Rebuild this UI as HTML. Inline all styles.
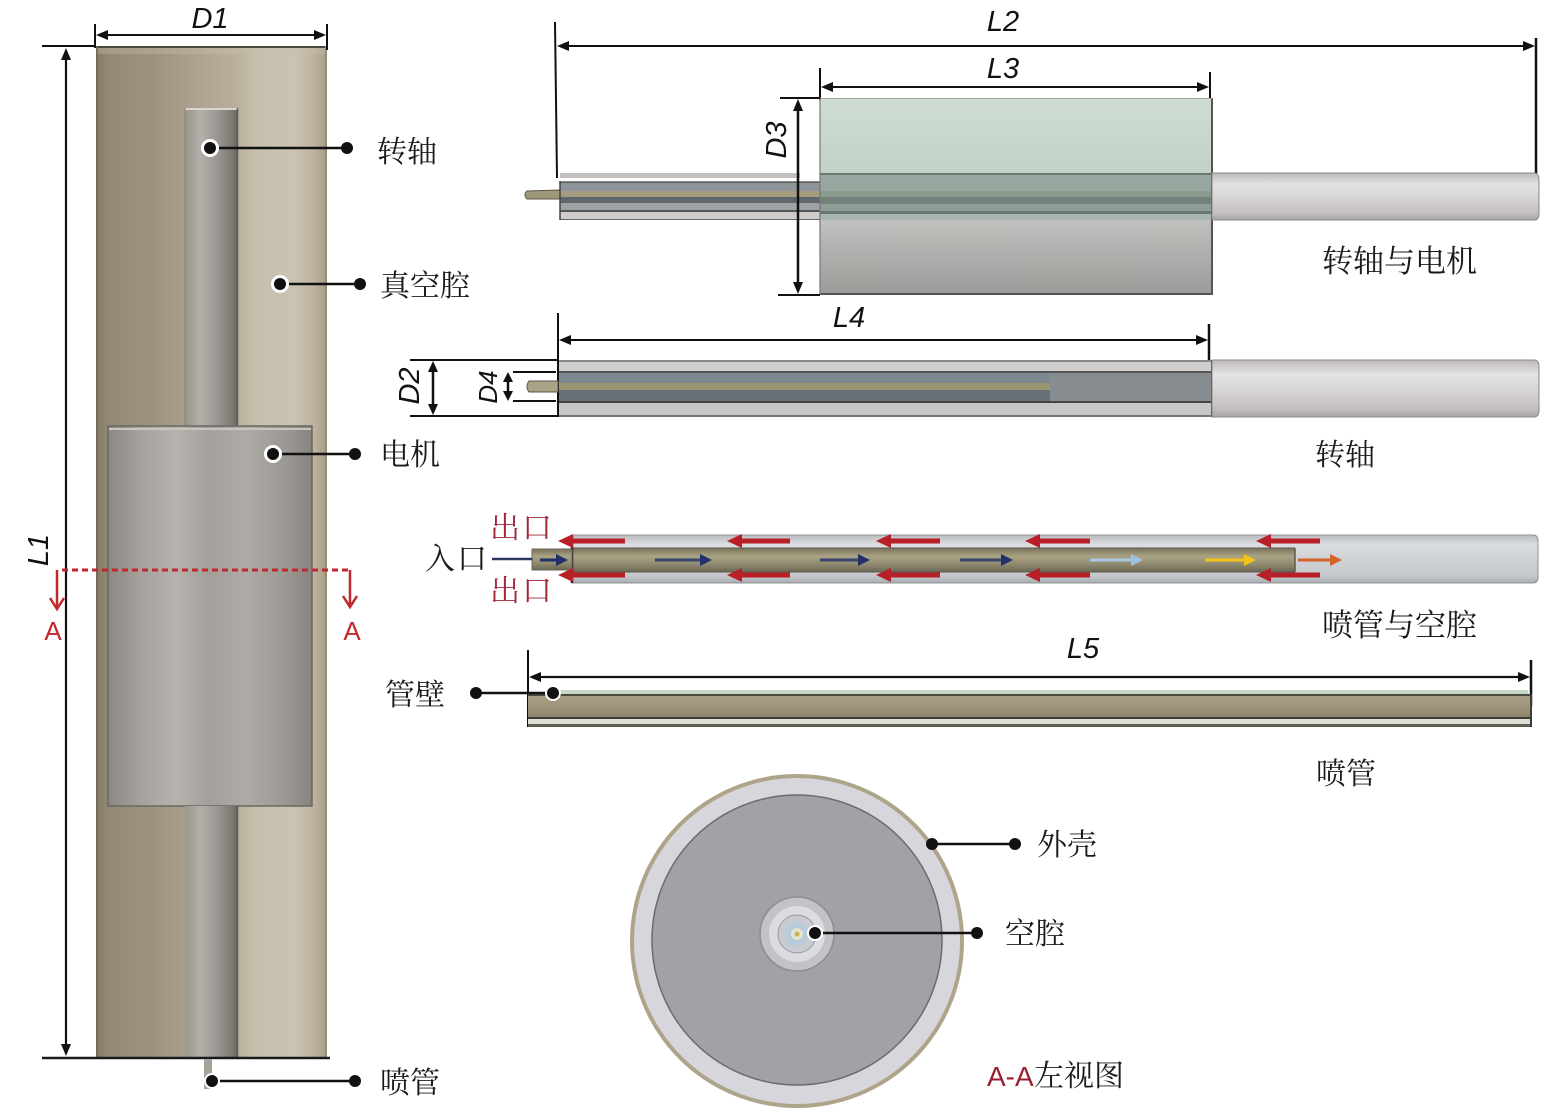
<!DOCTYPE html>
<html><head><meta charset="utf-8"><style>
html,body{margin:0;padding:0;background:#fff;}
svg{display:block;}
.cn{font-family:"Noto Serif CJK SC","Liberation Serif",serif;font-size:30px;fill:#1a1a1a;}
.dim{font-family:"Liberation Sans",sans-serif;font-style:italic;font-size:29px;fill:#111;}
</style></head><body>
<svg width="1547" height="1119" viewBox="0 0 1547 1119" xmlns="http://www.w3.org/2000/svg">
<defs>
<linearGradient id="cyl" x1="0" x2="1" y1="0" y2="0">
<stop offset="0" stop-color="#857b68"/><stop offset="0.06" stop-color="#948976"/><stop offset="0.25" stop-color="#9e9380"/><stop offset="0.38" stop-color="#a89e8b"/><stop offset="0.61" stop-color="#b9b09d"/><stop offset="0.7" stop-color="#c8c0ae"/><stop offset="0.86" stop-color="#cbc3b1"/><stop offset="0.95" stop-color="#bbb29e"/><stop offset="1" stop-color="#a59b86"/>
</linearGradient>
<linearGradient id="shaftL" x1="0" x2="1" y1="0" y2="0">
<stop offset="0" stop-color="#9a968f"/><stop offset="0.3" stop-color="#b3afa9"/><stop offset="0.6" stop-color="#9c9893"/><stop offset="0.9" stop-color="#7e7a75"/><stop offset="1" stop-color="#6a6661"/>
</linearGradient>
<linearGradient id="motorL" x1="0" x2="1" y1="0" y2="0">
<stop offset="0" stop-color="#8b8884"/><stop offset="0.15" stop-color="#a4a19c"/><stop offset="0.33" stop-color="#b6b3ae"/><stop offset="0.5" stop-color="#a3a09b"/><stop offset="0.68" stop-color="#aeaba6"/><stop offset="0.88" stop-color="#9a9792"/><stop offset="1" stop-color="#878480"/>
</linearGradient>
<linearGradient id="mTop" x1="0" x2="0" y1="0" y2="1">
<stop offset="0" stop-color="#cfdcd3"/><stop offset="1" stop-color="#c3d1c7"/>
</linearGradient>
<linearGradient id="mBot" x1="0" x2="0" y1="0" y2="1">
<stop offset="0" stop-color="#bfc1be"/><stop offset="1" stop-color="#9b9c99"/>
</linearGradient>
<linearGradient id="lgt" x1="0" x2="0" y1="0" y2="1">
<stop offset="0" stop-color="#bdb9b9"/><stop offset="0.25" stop-color="#e4e2e2"/><stop offset="0.55" stop-color="#d6d3d3"/><stop offset="0.85" stop-color="#c4c0c0"/><stop offset="1" stop-color="#a8a4a4"/>
</linearGradient>
<linearGradient id="tube3" x1="0" x2="0" y1="0" y2="1">
<stop offset="0" stop-color="#b9bcc0"/><stop offset="0.2" stop-color="#dcdee1"/><stop offset="0.5" stop-color="#cfd2d5"/><stop offset="0.85" stop-color="#c5c8cc"/><stop offset="1" stop-color="#a9acb0"/>
</linearGradient>
<linearGradient id="olive" x1="0" x2="0" y1="0" y2="1">
<stop offset="0" stop-color="#78725b"/><stop offset="0.35" stop-color="#aaa384"/><stop offset="0.7" stop-color="#8d876e"/><stop offset="1" stop-color="#6c6753"/>
</linearGradient>
<linearGradient id="tan" x1="0" x2="0" y1="0" y2="1">
<stop offset="0" stop-color="#a99d84"/><stop offset="0.5" stop-color="#a0947b"/><stop offset="1" stop-color="#8d826b"/>
</linearGradient>
</defs>
<rect width="1547" height="1119" fill="#fff"/>

<!-- ===== LEFT CYLINDER ===== -->
<rect x="96" y="46" width="231" height="1012" fill="url(#cyl)"/>
<line x1="96" y1="47" x2="327" y2="47" stroke="#4a463c" stroke-width="2"/>
<rect x="96" y="48" width="231" height="6" fill="#c9c1ae" opacity="0.35"/>
<line x1="97" y1="46" x2="97" y2="1058" stroke="#6e6656" stroke-width="1.5"/>
<line x1="326" y1="46" x2="326" y2="1058" stroke="#8f8670" stroke-width="1.5"/>
<!-- upper shaft -->
<rect x="185" y="108" width="52" height="318" fill="url(#shaftL)"/>
<line x1="185" y1="109" x2="237" y2="109" stroke="#d9d6d0" stroke-width="2"/>
<line x1="185" y1="108" x2="185" y2="426" stroke="#8a8373" stroke-width="1"/>
<line x1="237.5" y1="108" x2="237.5" y2="426" stroke="#5d5950" stroke-width="1.5"/>
<!-- motor -->
<rect x="108" y="426" width="204" height="380" fill="url(#motorL)" stroke="#6b6863" stroke-width="1.5"/>
<line x1="109" y1="429" x2="311" y2="429" stroke="#c8c5c0" stroke-width="2"/>
<!-- lower shaft -->
<rect x="185" y="806" width="52" height="252" fill="url(#shaftL)"/>
<line x1="237.5" y1="806" x2="237.5" y2="1058" stroke="#5d5950" stroke-width="1.5"/>
<line x1="42" y1="1058" x2="330" y2="1058" stroke="#1a1a1a" stroke-width="2.5"/>
<!-- nozzle -->
<rect x="204" y="1059" width="8" height="30" fill="#a8a39a"/>
<!-- D1 -->
<line x1="95" y1="24" x2="95" y2="48" stroke="#111" stroke-width="2"/>
<line x1="327" y1="24" x2="327" y2="50" stroke="#111" stroke-width="2"/>
<line x1="100" y1="35" x2="322" y2="35" stroke="#111" stroke-width="2"/>
<polygon points="96,35 108,30 108,40" fill="#111"/>
<polygon points="326,35 314,30 314,40" fill="#111"/>
<text class="dim" x="210" y="28" text-anchor="middle">D1</text>
<!-- L1 -->
<line x1="42" y1="46" x2="96" y2="46" stroke="#111" stroke-width="2"/>
<line x1="66" y1="52" x2="66" y2="1052" stroke="#111" stroke-width="2.2"/>
<polygon points="66,48 61,60 71,60" fill="#111"/>
<polygon points="66,1056 61,1044 71,1044" fill="#111"/>
<text class="dim" x="0" y="0" text-anchor="middle" transform="translate(48,550) rotate(-90)">L1</text>
<!-- A-A section line -->
<line x1="62" y1="570" x2="350" y2="570" stroke="#c0282d" stroke-width="3" stroke-dasharray="6,4"/>
<line x1="57" y1="570" x2="57" y2="608" stroke="#c0282d" stroke-width="2.5"/>
<polyline points="50,598 57,609 64,598" fill="none" stroke="#c0282d" stroke-width="2.5"/>
<line x1="350" y1="570" x2="350" y2="606" stroke="#c0282d" stroke-width="2.5"/>
<polyline points="343,596 350,607 357,596" fill="none" stroke="#c0282d" stroke-width="2.5"/>
<text x="53" y="640" text-anchor="middle" font-family="Liberation Sans, sans-serif" font-size="26" fill="#c0282d">A</text>
<text x="352" y="640" text-anchor="middle" font-family="Liberation Sans, sans-serif" font-size="26" fill="#c0282d">A</text>
<!-- left leaders -->
<g stroke="#111" stroke-width="2.5">
<line x1="210" y1="148" x2="347" y2="148"/>
<line x1="280" y1="284" x2="360" y2="284"/>
<line x1="273" y1="454" x2="355" y2="454"/>
<line x1="212" y1="1081" x2="355" y2="1081"/>
</g>
<g fill="#fff"><circle cx="210" cy="148" r="9"/><circle cx="280" cy="284" r="9"/><circle cx="273" cy="454" r="9"/><circle cx="212" cy="1081" r="8"/></g>
<g fill="#111">
<circle cx="210" cy="148" r="6"/><circle cx="347" cy="148" r="6"/>
<circle cx="280" cy="284" r="6"/><circle cx="360" cy="284" r="6"/>
<circle cx="273" cy="454" r="6"/><circle cx="355" cy="454" r="6"/>
<circle cx="212" cy="1081" r="6"/><circle cx="355" cy="1081" r="6"/>
</g>
<text class="cn" x="377" y="162">转轴</text>
<text class="cn" x="380" y="296">真空腔</text>
<text class="cn" x="380" y="465">电机</text>
<text class="cn" x="380" y="1093">喷管</text>

<!-- ===== SECTION 1: 转轴与电机 ===== -->
<line x1="555" y1="22" x2="557" y2="178" stroke="#111" stroke-width="2"/>
<line x1="1536" y1="38" x2="1536" y2="175" stroke="#111" stroke-width="2.5"/>
<line x1="560" y1="46" x2="1532" y2="46" stroke="#111" stroke-width="2"/>
<polygon points="557,46 569,41 569,51" fill="#111"/>
<polygon points="1535,46 1523,41 1523,51" fill="#111"/>
<text class="dim" x="1003" y="31" text-anchor="middle">L2</text>
<line x1="820" y1="68" x2="820" y2="100" stroke="#111" stroke-width="2"/>
<line x1="1210" y1="72" x2="1210" y2="100" stroke="#111" stroke-width="2"/>
<line x1="825" y1="87" x2="1206" y2="87" stroke="#111" stroke-width="2"/>
<polygon points="821,87 833,82 833,92" fill="#111"/>
<polygon points="1209,87 1197,82 1197,92" fill="#111"/>
<text class="dim" x="1003" y="78" text-anchor="middle">L3</text>
<path d="M527,191 L560,190 L560,199 L527,199 Q523,195 527,191 Z" fill="#9f9878" stroke="#5a5646" stroke-width="1"/>
<rect x="560" y="173" width="240" height="5" fill="#c4c0c0"/>
<rect x="560" y="182" width="260" height="9" fill="#8d959a"/>
<rect x="560" y="191" width="260" height="6" fill="#a49c7c"/>
<rect x="560" y="197" width="260" height="6" fill="#60676c"/>
<rect x="560" y="203" width="260" height="7" fill="#9ca2a5"/>
<rect x="560" y="210" width="260" height="2" fill="#555"/>
<rect x="560" y="212" width="260" height="7" fill="#cfcbcb"/>
<line x1="560" y1="182" x2="820" y2="182" stroke="#444" stroke-width="1.2"/>
<line x1="560" y1="219.5" x2="820" y2="219.5" stroke="#666" stroke-width="1"/>
<line x1="560" y1="181" x2="560" y2="220" stroke="#444" stroke-width="1.5"/>
<rect x="820" y="98" width="392" height="75" fill="url(#mTop)"/>
<rect x="820" y="173" width="392" height="2" fill="#6a7872"/>
<rect x="820" y="175" width="392" height="16" fill="#97a69e"/>
<rect x="820" y="191" width="392" height="6" fill="#8a9a8c"/>
<rect x="820" y="197" width="392" height="7" fill="#74827c"/>
<rect x="820" y="204" width="392" height="7" fill="#8f9d97"/>
<rect x="820" y="211" width="392" height="3" fill="#6a7872"/>
<rect x="820" y="214" width="392" height="6" fill="#a9b5af"/>
<rect x="820" y="220" width="392" height="74" fill="url(#mBot)"/>
<line x1="820" y1="294" x2="1212" y2="294" stroke="#555" stroke-width="2"/>
<line x1="1212" y1="98" x2="1212" y2="295" stroke="#555" stroke-width="2"/>
<line x1="820" y1="98" x2="820" y2="295" stroke="#777" stroke-width="1.2"/>
<line x1="820" y1="98.5" x2="1212" y2="98.5" stroke="#9aa69e" stroke-width="1"/>
<path d="M1212,173 L1534,173 Q1539,173 1539,180 L1539,214 Q1539,220 1534,220 L1212,220 Z" fill="url(#lgt)" stroke="#8c8888" stroke-width="1"/>
<line x1="780" y1="98" x2="820" y2="98" stroke="#111" stroke-width="2"/>
<line x1="778" y1="295" x2="820" y2="295" stroke="#111" stroke-width="2"/>
<line x1="798" y1="104" x2="798" y2="289" stroke="#111" stroke-width="2.5"/>
<polygon points="798,99 793,111 803,111" fill="#111"/>
<polygon points="798,294 793,282 803,282" fill="#111"/>
<text class="dim" x="0" y="0" text-anchor="middle" transform="translate(786,140) rotate(-90)">D3</text>
<text class="cn" x="1322" y="272" style="font-size:31px">转轴与电机</text>

<!-- ===== SECTION 2: 转轴 ===== -->
<line x1="558" y1="313" x2="558" y2="417" stroke="#111" stroke-width="2"/>
<line x1="1209" y1="324" x2="1209" y2="368" stroke="#111" stroke-width="2.5"/>
<line x1="563" y1="340" x2="1205" y2="340" stroke="#111" stroke-width="2"/>
<polygon points="559,340 571,335 571,345" fill="#111"/>
<polygon points="1208,340 1196,335 1196,345" fill="#111"/>
<text class="dim" x="849" y="327" text-anchor="middle">L4</text>
<rect x="559" y="360" width="653" height="2" fill="#8a8a8a"/>
<rect x="559" y="362" width="653" height="9" fill="#cfcfcf"/>
<rect x="559" y="371" width="653" height="2" fill="#555"/>
<rect x="559" y="373" width="653" height="10" fill="#7e898f"/>
<rect x="559" y="383" width="491" height="7" fill="#9c9574"/>
<rect x="1050" y="373" width="162" height="29" fill="#868c90"/>
<rect x="559" y="390" width="491" height="11" fill="#687075"/>
<rect x="559" y="401" width="653" height="2" fill="#444"/>
<rect x="559" y="403" width="653" height="12" fill="#c8c6c6"/>
<rect x="559" y="415" width="653" height="2" fill="#777"/>
<line x1="1212" y1="360" x2="1212" y2="417" stroke="#444" stroke-width="2"/>
<path d="M1212,360 L1534,360 Q1539,360 1539,367 L1539,410 Q1539,417 1534,417 L1212,417 Z" fill="url(#lgt)" stroke="#8c8888" stroke-width="1"/>
<path d="M529,381 L558,381 L558,392 L529,392 Q525,386.5 529,381 Z" fill="#aaa385" stroke="#5a5646" stroke-width="1"/>
<line x1="410" y1="360" x2="558" y2="360" stroke="#111" stroke-width="2"/>
<line x1="410" y1="416" x2="558" y2="416" stroke="#111" stroke-width="2"/>
<line x1="433" y1="366" x2="433" y2="410" stroke="#111" stroke-width="2.5"/>
<polygon points="433,361 428,372 438,372" fill="#111"/>
<polygon points="433,415 428,404 438,404" fill="#111"/>
<text class="dim" x="0" y="0" text-anchor="middle" transform="translate(419,386) rotate(-90)">D2</text>
<line x1="513" y1="372" x2="556" y2="372" stroke="#111" stroke-width="2"/>
<line x1="513" y1="401" x2="556" y2="401" stroke="#111" stroke-width="2"/>
<line x1="508" y1="376" x2="508" y2="397" stroke="#111" stroke-width="2.5"/>
<polygon points="508,372 503,382 513,382" fill="#111"/>
<polygon points="508,401 503,391 513,391" fill="#111"/>
<text class="dim" x="0" y="0" text-anchor="middle" transform="translate(497,387) rotate(-90)" style="font-size:26px">D4</text>
<text class="cn" x="1315" y="465">转轴</text>

<!-- ===== SECTION 3: 喷管与空腔 ===== -->
<path d="M572,535 L1533,535 Q1538,535 1538,541 L1538,577 Q1538,583 1533,583 L572,583 Z" fill="url(#tube3)" stroke="#8e9195" stroke-width="1"/>
<rect x="572" y="548" width="723" height="24" fill="url(#olive)"/>
<line x1="572" y1="548" x2="1295" y2="548" stroke="#5c5a50" stroke-width="1"/>
<line x1="572" y1="572" x2="1295" y2="572" stroke="#5c5a50" stroke-width="1"/>
<line x1="1295" y1="548" x2="1295" y2="572" stroke="#5c5a50" stroke-width="1.5"/>
<line x1="572" y1="536" x2="572" y2="583" stroke="#222" stroke-width="2.5"/>
<rect x="532" y="549" width="40" height="21" fill="url(#olive)" stroke="#6a6656" stroke-width="1"/>
<line x1="492" y1="559" x2="532" y2="559" stroke="#2a3560" stroke-width="2.5"/>
<g fill="#b81f26">
<polygon points="558,541 573,534 573,548"/><rect x="571" y="538.5" width="54" height="5"/>
<polygon points="727,541 742,534 742,548"/><rect x="740" y="538.5" width="50" height="5"/>
<polygon points="876,541 891,534 891,548"/><rect x="889" y="538.5" width="51" height="5"/>
<polygon points="1025,541 1040,534 1040,548"/><rect x="1038" y="538.5" width="52" height="5"/>
<polygon points="1256,541 1271,534 1271,548"/><rect x="1269" y="538.5" width="51" height="5"/>
<polygon points="558,575 573,568 573,582"/><rect x="571" y="572.5" width="54" height="5"/>
<polygon points="727,575 742,568 742,582"/><rect x="740" y="572.5" width="50" height="5"/>
<polygon points="876,575 891,568 891,582"/><rect x="889" y="572.5" width="51" height="5"/>
<polygon points="1025,575 1040,568 1040,582"/><rect x="1038" y="572.5" width="52" height="5"/>
<polygon points="1256,575 1271,568 1271,582"/><rect x="1269" y="572.5" width="51" height="5"/>
</g>
<g stroke-width="3">
<line x1="540" y1="560" x2="558" y2="560" stroke="#23306a"/>
<line x1="655" y1="560" x2="702" y2="560" stroke="#3a4570"/>
<line x1="820" y1="560" x2="860" y2="560" stroke="#3a4570"/>
<line x1="960" y1="560" x2="1003" y2="560" stroke="#3a4570"/>
<line x1="1090" y1="560" x2="1133" y2="560" stroke="#a8c8e4"/>
<line x1="1205" y1="560" x2="1246" y2="560" stroke="#f2c418"/>
<line x1="1298" y1="560" x2="1332" y2="560" stroke="#d4622a"/>
</g>
<polygon points="568,560 556,554 556,566" fill="#23306a"/>
<polygon points="712,560 700,554 700,566" fill="#23306a"/>
<polygon points="870,560 858,554 858,566" fill="#23306a"/>
<polygon points="1013,560 1001,554 1001,566" fill="#23306a"/>
<polygon points="1143,560 1131,554 1131,566" fill="#9ec3e0"/>
<polygon points="1256,560 1244,554 1244,566" fill="#f2c418"/>
<polygon points="1342,560 1330,554 1330,566" fill="#d4622a"/>
<text class="cn" x="490" y="538" style="fill:#a0283a;letter-spacing:2px">出口</text>
<text class="cn" x="490" y="601" style="fill:#a0283a;letter-spacing:2px">出口</text>
<text class="cn" x="425" y="569" style="letter-spacing:2px">入口</text>
<text class="cn" x="1322" y="636" style="font-size:31px">喷管与空腔</text>

<!-- ===== SECTION 4: 喷管 ===== -->
<line x1="528" y1="650" x2="528" y2="727" stroke="#111" stroke-width="2"/>
<line x1="1531" y1="660" x2="1531" y2="706" stroke="#111" stroke-width="2.5"/>
<line x1="533" y1="677" x2="1526" y2="677" stroke="#111" stroke-width="2.2"/>
<polygon points="529,677 541,672 541,682" fill="#111"/>
<polygon points="1530,677 1518,672 1518,682" fill="#111"/>
<text class="dim" x="1083" y="658" text-anchor="middle">L5</text>
<rect x="560" y="690" width="968" height="4" fill="#c7d8c6"/>
<rect x="528" y="694" width="1004" height="2" fill="#4c4a40"/>
<rect x="528" y="696" width="1004" height="21" fill="url(#tan)"/>
<rect x="528" y="717" width="1004" height="2" fill="#3e3c34"/>
<rect x="528" y="719" width="1004" height="5" fill="#dedfd4"/>
<rect x="528" y="724" width="1004" height="3" fill="#5e5c54"/>
<line x1="1531" y1="694" x2="1531" y2="727" stroke="#3e3c34" stroke-width="2"/>
<line x1="476" y1="693" x2="553" y2="693" stroke="#111" stroke-width="2.5"/>
<circle cx="553" cy="693" r="8" fill="#fff"/>
<circle cx="476" cy="693" r="6" fill="#111"/><circle cx="553" cy="693" r="6" fill="#111"/>
<text class="cn" x="385" y="705">管壁</text>
<text class="cn" x="1316" y="784">喷管</text>

<!-- ===== A-A CROSS SECTION ===== -->
<circle cx="797" cy="941" r="167" fill="#aea489"/>
<circle cx="797" cy="941" r="163" fill="#d7d6dc"/>
<circle cx="797" cy="940" r="145" fill="#a3a1a6" stroke="#6c6a6e" stroke-width="1.5"/>
<circle cx="797" cy="934" r="37" fill="#c3c2c7" stroke="#8e8c90" stroke-width="1.5"/>
<circle cx="797" cy="934" r="28" fill="#dcdce0"/>
<circle cx="797" cy="934" r="19" fill="#c8ccd2" stroke="#9a9aa0" stroke-width="1"/>
<circle cx="797" cy="934" r="12" fill="#b7cbd8"/>
<circle cx="797" cy="934" r="6" fill="#e6e3d2"/>
<circle cx="797" cy="934" r="2.5" fill="#c9b455"/>
<line x1="932" y1="844" x2="1015" y2="844" stroke="#111" stroke-width="2.5"/>
<line x1="815" y1="933" x2="977" y2="933" stroke="#111" stroke-width="2.5"/>
<circle cx="815" cy="933" r="8" fill="#fff"/>
<circle cx="932" cy="844" r="6" fill="#111"/><circle cx="1015" cy="844" r="6" fill="#111"/>
<circle cx="815" cy="933" r="6" fill="#111"/><circle cx="977" cy="933" r="6" fill="#111"/>
<text class="cn" x="1037" y="855">外壳</text>
<text class="cn" x="1005" y="944">空腔</text>
<text x="987" y="1086" style="font-family:'Liberation Sans',sans-serif;font-size:28px;fill:#9a2030">A-A</text>
<text class="cn" x="1034" y="1086">左视图</text>
</svg>
</body></html>
